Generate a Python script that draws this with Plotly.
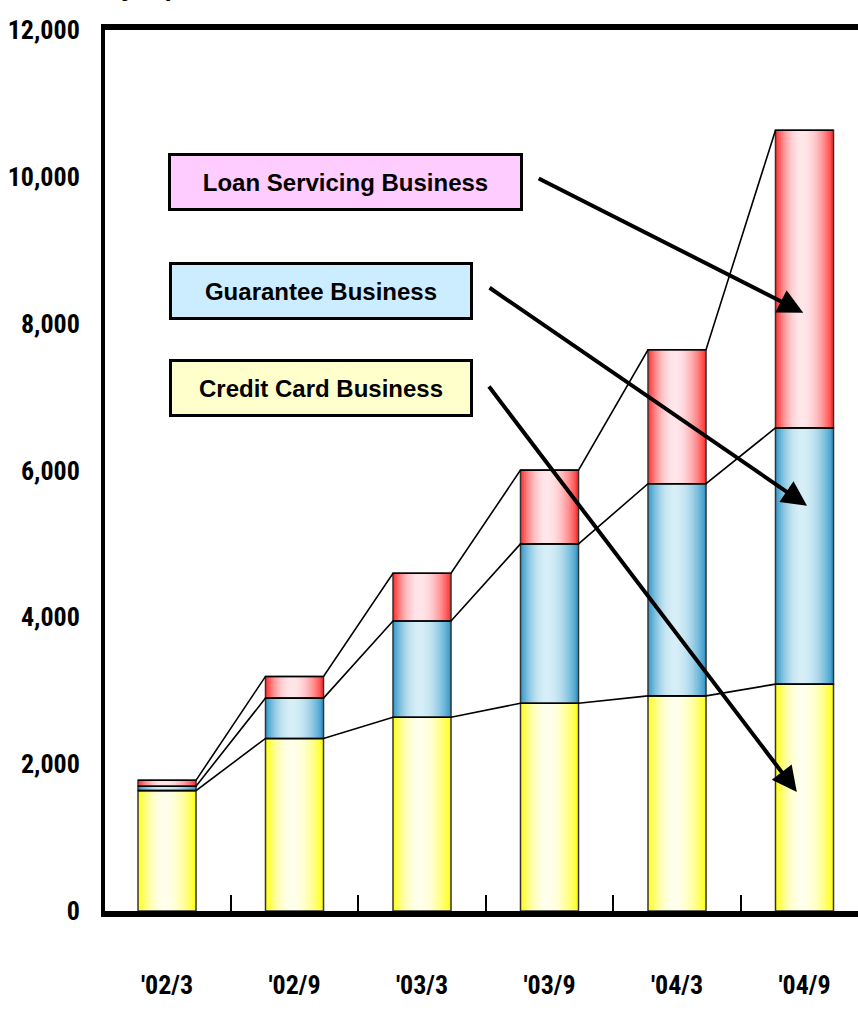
import plotly.graph_objects as go

# Operating assets by business segment (100 million yen)
periods = ["'02/3", "'02/9", "'03/3", "'03/9", "'04/3", "'04/9"]
credit_card = [1640, 2350, 2640, 2830, 2930, 3090]
guarantee = [60, 550, 1310, 2170, 2890, 3490]
loan_servicing = [80, 295, 650, 1005, 1825, 4055]
y_ticks = [0, 2000, 4000, 6000, 8000, 10000, 12000]

BAR_W = 0.455
N_SLICES = 32
NARROW = ("Liberation Sans Narrow, Arial Narrow, Roboto Condensed, "
          "Open Sans Condensed, DejaVu Sans Condensed, sans-serif")
SANS = "Liberation Sans, Arial, sans-serif"


def hex_rgb(h):
    h = h.lstrip("#")
    return tuple(int(h[i:i + 2], 16) for i in (0, 2, 4))


def shade(sat, light, t, peak=0.45):
    """Colour across a bar: saturated at the edges, pale near `peak`."""
    lin = t / peak if t <= peak else (1 - t) / (1 - peak)
    f = 1 - (1 - lin) ** 2
    a, b = hex_rgb(sat), hex_rgb(light)
    r, g, bl = (round(a[i] + (b[i] - a[i]) * f) for i in range(3))
    return f"rgb({r},{g},{bl})"


xs = list(range(len(periods)))
lvl1 = credit_card
lvl2 = [a + b for a, b in zip(lvl1, guarantee)]
lvl3 = [a + b for a, b in zip(lvl2, loan_servicing)]

segments = [
    (credit_card, [0] * len(xs), "#FFFF10", "#FFFFEC"),
    (guarantee, lvl1, "#2F95C7", "#D6EEF7"),
    (loan_servicing, lvl2, "#FF2B2B", "#FFE6EA"),
]

fig = go.Figure()

# gradient fill: each slice starts further right and runs to the bar's right edge
for vals, base, sat, light in segments:
    for k in range(N_SLICES):
        t = (k + 0.5) / N_SLICES
        fig.add_trace(go.Bar(
            x=xs, y=vals, base=base,
            width=BAR_W * (1 - k / N_SLICES),
            offset=-BAR_W / 2 + BAR_W * k / N_SLICES,
            marker=dict(color=shade(sat, light, t), line=dict(width=0)),
            hoverinfo="skip",
        ))
    # outline of the segment
    fig.add_trace(go.Bar(
        x=xs, y=vals, base=base, width=BAR_W, offset=-BAR_W / 2,
        marker=dict(color="rgba(0,0,0,0)", line=dict(color="#333333", width=1.5)),
        hoverinfo="skip",
    ))

# series lines joining the segment tops of neighbouring bars
for level in (lvl1, lvl2, lvl3):
    lx, ly = [], []
    for i, v in zip(xs, level):
        lx += [i - BAR_W / 2, i + BAR_W / 2]
        ly += [v, v]
    fig.add_trace(go.Scatter(x=lx, y=ly, mode="lines",
                             line=dict(color="black", width=1.6),
                             hoverinfo="skip"))

annotations = []

# segment name boxes
boxes = [
    ("Loan Servicing Business", 0.3194, 0.8275, 349, "#FFCCFF"),
    ("Guarantee Business", 0.2862, 0.7032, 298, "#CCECFF"),
    ("Credit Card Business", 0.2869, 0.5931, 298, "#FFFFCC"),
]
for text, bx, by, bw, fill in boxes:
    annotations.append(dict(
        text=f"<b>{text}</b>", xref="paper", yref="paper", x=bx, y=by,
        xanchor="center", yanchor="middle", showarrow=False,
        width=bw, height=52, bgcolor=fill, bordercolor="black",
        borderwidth=3, borderpad=0,
        font=dict(family=SANS, size=24, color="black"),
    ))

# arrows from each box to its segment in the latest bar
arrows = [(4.99, 8150, -266, -135), (5.02, 5520, -319, -219), (4.94, 1620, -309, -407)]
for tx, ty, ax, ay in arrows:
    annotations.append(dict(
        text="", x=tx, y=ty, xref="x", yref="y", ax=ax, ay=ay,
        showarrow=True, arrowhead=2, arrowsize=1.25, arrowwidth=4,
        arrowcolor="black", standoff=0,
    ))

# unit caption above the plot
annotations.append(dict(
    text="<b>(100 million yen)</b>", xref="paper", yref="paper",
    x=0.0956, y=1.0295, xanchor="right", yanchor="bottom", showarrow=False,
    font=dict(family=SANS, size=26, color="black"),
))

fig.update_layout(
    width=858, height=1011,
    margin=dict(l=105, r=0, t=30, b=100, pad=0),
    barmode="overlay", showlegend=False,
    plot_bgcolor="white", paper_bgcolor="white",
    annotations=annotations,
    xaxis=dict(
        range=[-0.4863, 5.4196], tickmode="array", tickvals=xs, ticktext=periods,
        showline=True, linewidth=6, linecolor="black", mirror=True,
        ticks="", showgrid=False, zeroline=False, automargin=False,
        tickfont=dict(family=NARROW, size=26, color="black", weight="bold"),
        ticklabelstandoff=46,
        minor=dict(tickmode="array", tickvals=[i + 0.5 for i in xs[:-1]],
                   ticks="inside", ticklen=16, tickwidth=2, tickcolor="black",
                   showgrid=False),
    ),
    yaxis=dict(
        range=[0, 12000], tickmode="array", tickvals=y_ticks,
        ticktext=[f"{v:,}" for v in y_ticks],
        showline=True, linewidth=4, linecolor="black",
        ticks="", showgrid=False, zeroline=False, automargin=False,
        tickfont=dict(family=NARROW, size=26, color="black", weight="bold"),
        ticklabelstandoff=16,
    ),
)

fig.write_html("out.html")
